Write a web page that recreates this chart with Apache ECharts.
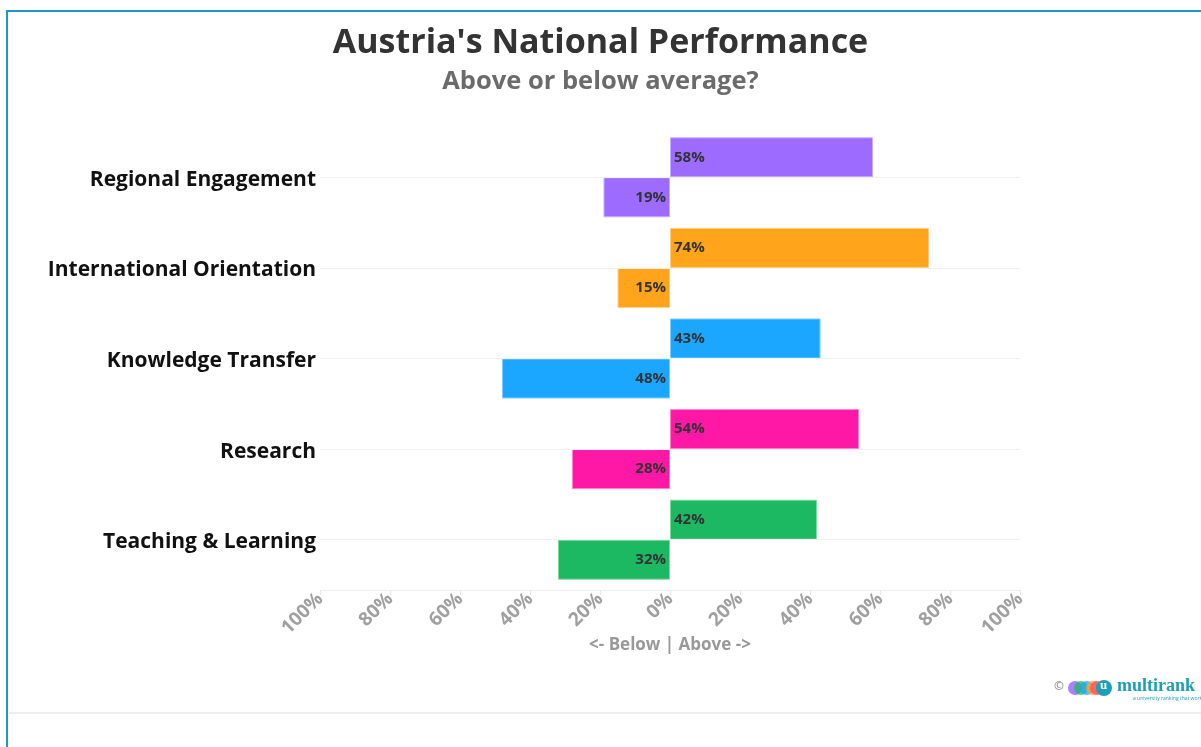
<!DOCTYPE html>
<html><head><meta charset="utf-8">
<script src="https://cdn.jsdelivr.net/npm/echarts@6/dist/echarts.min.js"></script>
<style>html,body{margin:0;padding:0;background:#fff}#c{width:1201px;height:747px}</style>
</head><body><div id="c"></div>
<script>
const categories = ['Regional Engagement','International Orientation','Knowledge Transfer','Research','Teaching & Learning'];
const aboveValues = [58,74,43,54,42];
const belowValues = [19,15,48,28,32];
const barColors = ['#9d6bff','#ffa41b','#1ba6ff','#ff18a6','#1cb862'];
const titleText = "Austria's National Performance";
const subtitleText = 'Above or below average?';
const xAxisName = '<- Below | Above ->';

const FONT = '"Open Sans", Lato, sans-serif';
const chart = echarts.init(document.getElementById('c'), null, {renderer:'canvas'});

function lighten(hex){
  const n=parseInt(hex.slice(1),16);
  const r=(n>>16)&255,g=(n>>8)&255,b=n&255;
  const f=v=>Math.round(v+(255-v)*0.45);
  return 'rgb('+f(r)+','+f(g)+','+f(b)+')';
}

const labelStyle = {show:true,color:'#333',fontFamily:FONT,fontWeight:'bold',fontSize:15};

chart.setOption({
  animation:false,
  backgroundColor:'#fff',
  title:[
    {text:titleText,left:'center',top:21,textStyle:{fontFamily:FONT,fontWeight:'bold',fontSize:34,color:'#333'}},
    {text:subtitleText,left:'center',top:64,textStyle:{fontFamily:FONT,fontWeight:'bold',fontSize:25.5,color:'#6b6b6b'}}
  ],
  grid:{left:320,right:181,top:132,bottom:162,containLabel:false},
  xAxis:{
    type:'value',min:-100,max:100,interval:20,offset:5,
    name:xAxisName,nameLocation:'middle',nameGap:47,nameMoveOverlap:false,
    nameTextStyle:{fontFamily:FONT,fontWeight:'bold',fontSize:17,color:'#999'},
    axisLine:{show:true,lineStyle:{color:'#eeeeee',width:1}},
    axisTick:{show:true,length:5,lineStyle:{color:'#e6e6e6'}},
    splitLine:{show:false},
    axisLabel:{rotate:45,margin:6,fontFamily:FONT,fontWeight:'bold',fontSize:19,color:'#a0a0a0',
      formatter:v=>Math.abs(v)+'%'}
  },
  yAxis:{
    type:'category',data:categories,inverse:true,
    axisLine:{show:false},axisTick:{show:false},splitLine:{show:false},
    axisLabel:{margin:4,formatter:v=>'{t|'+v+'}',
      rich:{t:{padding:[5,0,0,0],fontFamily:FONT,fontWeight:'bold',fontSize:21,color:'#111'}}}
  },
  series:[
    {
      name:'Above',type:'bar',barWidth:40,barGap:'0%',
      data:aboveValues.map((v,i)=>({value:v,itemStyle:{color:barColors[i],borderColor:lighten(barColors[i]),borderWidth:1}})),
      label:Object.assign({position:'insideLeft',distance:4,formatter:p=>Math.abs(p.value)+'%'},labelStyle)
    },
    {
      name:'Below',type:'bar',barWidth:40,barGap:'0%',
      data:belowValues.map((v,i)=>({value:-v,itemStyle:{color:barColors[i],borderColor:lighten(barColors[i]),borderWidth:1}})),
      label:Object.assign({position:'insideRight',distance:4,formatter:p=>Math.abs(p.value)+'%'},labelStyle)
    },
    {
      name:'grid',type:'line',data:[],silent:true,z:0,
      markLine:{silent:true,symbol:'none',label:{show:false},animation:false,
        lineStyle:{color:'#efefef',width:1,type:'solid'},
        data:categories.map((c,i)=>({yAxis:c}))}
    }
  ],
  graphic:[
    {type:'rect',shape:{x:7,y:11,width:1400,height:900},style:{fill:'none',stroke:'#1f97c1',lineWidth:2},z:-1,silent:true},
    {type:'rect',shape:{x:9,y:712,width:1200,height:2},style:{fill:'#eeeeee'},silent:true},
    {type:'text',left:1054,top:681,style:{text:'©',fill:'#999',font:'bold 12px '+FONT}},
    {type:'circle',shape:{cx:1075,cy:688,r:7},style:{fill:'#9d6bff',opacity:0.85}},
    {type:'circle',shape:{cx:1081,cy:688,r:7},style:{fill:'#1cb862',opacity:0.75}},
    {type:'circle',shape:{cx:1087,cy:688,r:7},style:{fill:'#1ba6ff',opacity:0.75}},
    {type:'circle',shape:{cx:1093,cy:688,r:7},style:{fill:'#ffa41b',opacity:0.75}},
    {type:'circle',shape:{cx:1097,cy:688,r:7},style:{fill:'#ff4f6a',opacity:0.8}},
    {type:'circle',shape:{cx:1104,cy:688,r:8},style:{fill:'#1e9fb5'}},
    {type:'text',left:1100,top:679,style:{text:'u',fill:'#fff',font:'bold 13px "Liberation Serif", serif'}},
    {type:'text',left:1117,top:677,style:{text:'multirank',fill:'#1a9fb3',font:'bold 18px "Liberation Serif", serif'}},
    {type:'text',left:1133,top:696,style:{text:'a university ranking that works',fill:'#1a9fb3',font:'5px '+FONT}}
  ]
});
</script></body></html>
